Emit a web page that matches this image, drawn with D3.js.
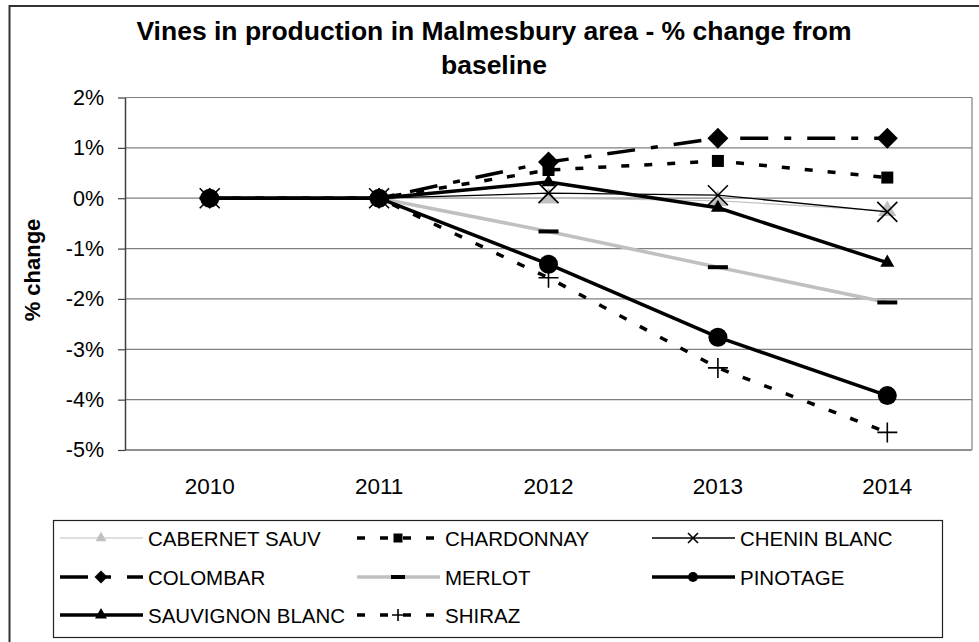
<!DOCTYPE html>
<html>
<head>
<meta charset="utf-8">
<script src="https://cdn.jsdelivr.net/npm/d3@7/dist/d3.min.js"></script>
<style>
  body { margin: 0; background: #fff; }
  svg { display: block; font-family: Arial, "Liberation Sans", sans-serif; }
</style>
</head>
<body>
<svg width="979" height="642"></svg>
<script>
// values in % change from the 2010 baseline
const years = ["2010", "2011", "2012", "2013", "2014"];
const yTicks = [-5, -4, -3, -2, -1, 0, 1, 2];

const cabernetSauv   = [0, 0, 0.00, -0.05, -0.25];
const chardonnay     = [0, 0, 0.56, 0.74, 0.41];
const cheninBlanc    = [0, 0, 0.10, 0.06, -0.27];
const colombar       = [0, 0, 0.72, 1.19, 1.19];
const merlot         = [0, 0, -0.66, -1.37, -2.07];
const pinotage       = [0, 0, -1.31, -2.76, -3.92];
const sauvignonBlanc = [0, 0, 0.32, -0.19, -1.28];
const shiraz         = [0, 0, -1.58, -3.37, -4.65];

const series = [
  {name: "CABERNET SAUV",   values: cabernetSauv,   color: "#c0c0c0", width: 1.2, dash: null,        marker: "triangle", mfill: "#c0c0c0", msize: 18, lsize: 11},
  {name: "CHARDONNAY",      values: chardonnay,     color: "#000",    width: 3.5, dash: "8,15",      marker: "square",   mfill: "#000",    msize: 12, lsize: 9},
  {name: "CHENIN BLANC",    values: cheninBlanc,    color: "#000",    width: 1.3, dash: null,        marker: "x",        mfill: "#000",    msize: 10, lsize: 5},
  {name: "COLOMBAR",        values: colombar,       color: "#000",    width: 3.5, dash: "28,16,7,16", marker: "diamond", mfill: "#000",    msize: 10.5, lsize: 6.5},
  {name: "MERLOT",          values: merlot,         color: "#c0c0c0", width: 3.5, dash: null,        marker: "dash",     mfill: "#000",    msize: 20, lsize: 14},
  {name: "PINOTAGE",        values: pinotage,       color: "#000",    width: 3.5, dash: null,        marker: "circle",   mfill: "#000",    msize: 9.5, lsize: 5},
  {name: "SAUVIGNON BLANC", values: sauvignonBlanc, color: "#000",    width: 3.5, dash: null,        marker: "triangle", mfill: "#000",    msize: 14, lsize: 12},
  {name: "SHIRAZ",          values: shiraz,         color: "#000",    width: 3.5, dash: "8,15",      marker: "plus",     mfill: "#000",    msize: 10, lsize: 6}
];

const svg = d3.select("svg");
const plot = {left: 125, right: 972, top: 97.5, bottom: 450};

const x = d3.scaleBand().domain(years).range([plot.left, plot.right]);
const y = d3.scaleLinear().domain([-5, 2]).range([plot.bottom, plot.top]);
const cx = d => x(d) + x.bandwidth() / 2;

// outer chart border (runs off the canvas at right and bottom)
svg.append("rect")
  .attr("x", 9.5).attr("y", 6).attr("width", 1000).attr("height", 700)
  .attr("fill", "none").attr("stroke", "#333").attr("stroke-width", 2);

// title
const title = svg.append("text")
  .attr("text-anchor", "middle")
  .attr("font-weight", "bold")
  .attr("font-size", 26.5);
title.append("tspan").attr("x", 494).attr("y", 40).text("Vines in production in Malmesbury area - % change from");
title.append("tspan").attr("x", 494).attr("y", 74).text("baseline");

// gridlines
svg.append("g")
  .selectAll("line")
  .data(yTicks.filter(d => d > -5))
  .enter()
  .append("line")
  .attr("x1", plot.left).attr("x2", plot.right)
  .attr("y1", d => y(d)).attr("y2", d => y(d))
  .attr("stroke", "#808080").attr("stroke-width", 1.2);

// plot area right edge and bottom
svg.append("line")
  .attr("x1", plot.right).attr("x2", plot.right)
  .attr("y1", plot.top).attr("y2", plot.bottom)
  .attr("stroke", "#808080").attr("stroke-width", 1.2);
svg.append("line")
  .attr("x1", plot.left).attr("x2", plot.right)
  .attr("y1", plot.bottom).attr("y2", plot.bottom)
  .attr("stroke", "#909090").attr("stroke-width", 2);

// y axis
const yAxis = svg.append("g")
  .attr("transform", `translate(${plot.left},0)`)
  .call(d3.axisLeft(y).tickValues(yTicks).tickSize(7).tickSizeOuter(0).tickPadding(14).tickFormat(d => d + "%"));
yAxis.select(".domain").attr("stroke", "#404040").attr("stroke-width", 1.5);
yAxis.selectAll(".tick line").attr("stroke", "#404040").attr("stroke-width", 1.2);
yAxis.selectAll(".tick text").attr("font-size", 21.5).attr("font-family", "Arial, 'Liberation Sans', sans-serif").attr("fill", "#000");

// x labels (no tick marks)
svg.append("g")
  .selectAll("text")
  .data(years)
  .enter()
  .append("text")
  .attr("x", d => cx(d))
  .attr("y", 494)
  .attr("text-anchor", "middle")
  .attr("font-size", 22.5)
  .text(d => d);

// y axis title
svg.append("text")
  .attr("transform", "translate(40,270) rotate(-90)")
  .attr("text-anchor", "middle")
  .attr("font-weight", "bold")
  .attr("font-size", 22)
  .text("% change");

function marker(g, type, s, fill, px, py) {
  if (type === "triangle") {
    const h = s * Math.sqrt(3) / 2;
    g.append("path")
      .attr("d", `M${px},${py - h * 2 / 3}L${px + s / 2},${py + h / 3}L${px - s / 2},${py + h / 3}Z`)
      .attr("fill", fill);
  } else if (type === "square") {
    g.append("rect").attr("x", px - s / 2).attr("y", py - s / 2).attr("width", s).attr("height", s).attr("fill", fill);
  } else if (type === "diamond") {
    g.append("path")
      .attr("d", `M${px},${py - s}L${px + s},${py}L${px},${py + s}L${px - s},${py}Z`)
      .attr("fill", fill);
  } else if (type === "circle") {
    g.append("circle").attr("cx", px).attr("cy", py).attr("r", s).attr("fill", fill);
  } else if (type === "x") {
    g.append("path")
      .attr("d", `M${px - s},${py - s}L${px + s},${py + s}M${px - s},${py + s}L${px + s},${py - s}`)
      .attr("stroke", fill).attr("stroke-width", 1.6).attr("fill", "none");
  } else if (type === "plus") {
    g.append("path")
      .attr("d", `M${px - s},${py}L${px + s},${py}M${px},${py - s}L${px},${py + s}`)
      .attr("stroke", fill).attr("stroke-width", 1.6).attr("fill", "none");
  } else if (type === "dash") {
    g.append("rect").attr("x", px - s / 2).attr("y", py - 2).attr("width", s).attr("height", 4).attr("fill", fill);
  }
}

const line = d3.line()
  .x((d, i) => cx(years[i]))
  .y(d => y(d));

const lines = svg.append("g");
series.forEach(function (s) {
  const g = lines.append("g");
  g.append("path")
    .attr("d", line(s.values))
    .attr("fill", "none")
    .attr("stroke", s.color)
    .attr("stroke-width", s.width)
    .attr("stroke-dasharray", s.dash)
    .attr("stroke-linejoin", "round");
  s.values.forEach(function (v, i) {
    marker(g, s.marker, s.msize, s.mfill, cx(years[i]), y(v));
  });
});

// legend
svg.append("rect")
  .attr("x", 53.5).attr("y", 520.5).attr("width", 889).attr("height", 117)
  .attr("fill", "none").attr("stroke", "#222").attr("stroke-width", 1.2);

const colX = [60, 357, 652];
const rowY = [538, 577, 615];
series.forEach(function (s, i) {
  const lx = colX[i % 3], ly = rowY[Math.floor(i / 3)];
  const g = svg.append("g");
  g.append("line")
    .attr("x1", lx).attr("x2", lx + 83)
    .attr("y1", ly).attr("y2", ly)
    .attr("stroke", s.color)
    .attr("stroke-width", s.width)
    .attr("stroke-dasharray", s.dash);
  marker(g, s.marker, s.lsize, s.mfill, lx + 41, ly);
  g.append("text")
    .attr("x", lx + 88)
    .attr("y", ly + 7.5)
    .attr("font-size", 20.5)
    .text(s.name);
});
</script>
</body>
</html>
